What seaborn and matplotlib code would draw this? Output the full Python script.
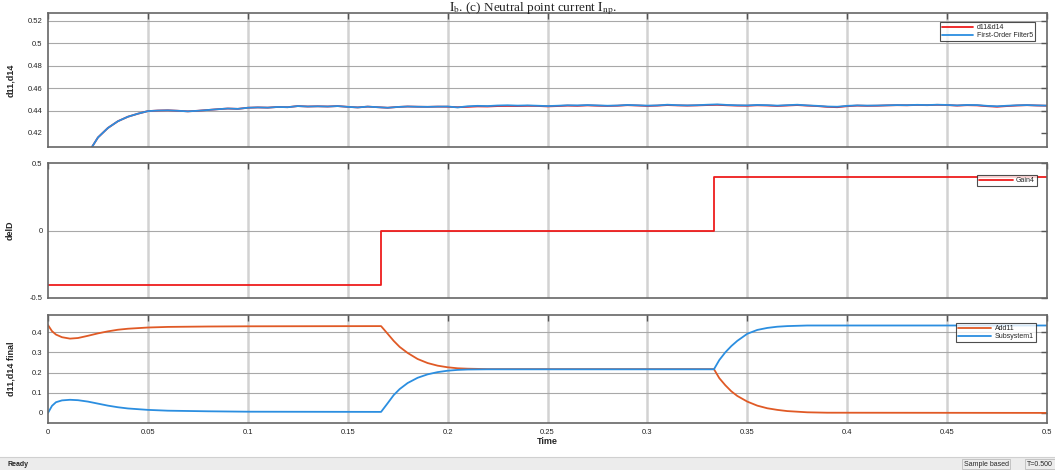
import numpy as np
import pandas as pd
import matplotlib
matplotlib.use("Agg")
import matplotlib.pyplot as plt
import seaborn as sns

# ---- data ----
# top panel: d11&d14 (red) and First-Order Filter5 (blue)
t_top = [0.022, 0.025, 0.03, 0.035, 0.04, 0.045,
         0.05, 0.055, 0.06, 0.065, 0.07, 0.075, 0.08, 0.085, 0.09, 0.095,
         0.10, 0.105, 0.11, 0.115, 0.12, 0.125, 0.13, 0.135, 0.14, 0.145,
         0.15, 0.155, 0.16, 0.165, 0.17, 0.175, 0.18, 0.185, 0.19, 0.195,
         0.20, 0.205, 0.21, 0.215, 0.22, 0.225, 0.23, 0.235, 0.24, 0.245,
         0.25, 0.255, 0.26, 0.265, 0.27, 0.275, 0.28, 0.285, 0.29, 0.295,
         0.30, 0.305, 0.31, 0.315, 0.32, 0.325, 0.33, 0.335, 0.34, 0.345,
         0.35, 0.355, 0.36, 0.365, 0.37, 0.375, 0.38, 0.385, 0.39, 0.395,
         0.40, 0.405, 0.41, 0.415, 0.42, 0.425, 0.43, 0.435, 0.44, 0.445,
         0.45, 0.455, 0.46, 0.465, 0.47, 0.475, 0.48, 0.485, 0.49, 0.495, 0.50]
filt5 = [0.4075, 0.416, 0.4245, 0.4305, 0.4345, 0.4372,
         0.4395, 0.4400, 0.4402, 0.4398, 0.4393, 0.4398, 0.4405, 0.4412, 0.4418, 0.4415,
         0.4425, 0.4428, 0.4426, 0.4432, 0.4430, 0.4440, 0.4436, 0.4438, 0.4436, 0.4440,
         0.4433, 0.4428, 0.4435, 0.4430, 0.4425, 0.4432, 0.4436, 0.4434, 0.4433, 0.4435,
         0.4436, 0.4428, 0.4438, 0.4442, 0.4440, 0.4445, 0.4447, 0.4444, 0.4446, 0.4443,
         0.4440, 0.4443, 0.4447, 0.4446, 0.4449, 0.4446, 0.4443, 0.4445, 0.4450, 0.4447,
         0.4444, 0.4446, 0.4452, 0.4448, 0.4446, 0.4448, 0.4452, 0.4455, 0.4450, 0.4447,
         0.4446, 0.4450, 0.4448, 0.4444, 0.4448, 0.4452, 0.4446, 0.4442, 0.4436, 0.4434,
         0.4442, 0.4446, 0.4444, 0.4445, 0.4447, 0.4449, 0.4448, 0.4451, 0.4449, 0.4452,
         0.4450, 0.4446, 0.4450, 0.4449, 0.4442, 0.4438, 0.4443, 0.4447, 0.4449, 0.4446, 0.4444]
d11_d14 = [0.4075, 0.416, 0.4245, 0.4305, 0.4345, 0.4372,
           0.4395, 0.4400, 0.4402, 0.4398, 0.4393, 0.4398, 0.4405, 0.4412, 0.4418, 0.4415,
           0.4425, 0.4428, 0.4426, 0.4432, 0.4430, 0.4440, 0.4436, 0.4438, 0.4436, 0.4440,
           0.4433, 0.4428, 0.4435, 0.4430, 0.4425, 0.4432, 0.4436, 0.4434, 0.4433, 0.4435,
           0.4434, 0.4430, 0.4433, 0.4437, 0.4436, 0.4440, 0.4441, 0.4440, 0.4442, 0.4441,
           0.4437, 0.4440, 0.4444, 0.4442, 0.4446, 0.4443, 0.4441, 0.4443, 0.4448, 0.4445,
           0.4441, 0.4444, 0.4449, 0.4446, 0.4444, 0.4446, 0.4449, 0.4451, 0.4447, 0.4444,
           0.4443, 0.4447, 0.4445, 0.4441, 0.4445, 0.4449, 0.4444, 0.4440, 0.4433, 0.4430,
           0.4439, 0.4444, 0.4442, 0.4443, 0.4446, 0.4448, 0.4447, 0.4450, 0.4448, 0.4451,
           0.4449, 0.4444, 0.4448, 0.4446, 0.4439, 0.4434, 0.4440, 0.4445, 0.4448, 0.4445, 0.4443]

# middle panel: Gain4 step signal
t_gain = [0.0, 0.1667, 0.3333, 0.5]
gain4 = [-0.4, 0.0, 0.4, 0.4]

# bottom panel: Add11 (orange) and Subsystem1 (blue)
t_bot = [0.0, 0.002, 0.004, 0.007, 0.011, 0.015, 0.02, 0.025, 0.03, 0.035, 0.04,
         0.05, 0.06, 0.08, 0.10, 0.1667,
         0.170, 0.173, 0.176, 0.180, 0.185, 0.190, 0.195, 0.200, 0.205, 0.210, 0.220,
         0.3333, 0.336, 0.339, 0.342, 0.345, 0.350, 0.355, 0.360, 0.365, 0.370, 0.380,
         0.390, 0.5]
add11 = [0.435, 0.405, 0.388, 0.375, 0.368, 0.371, 0.382, 0.394, 0.404, 0.412, 0.417,
         0.423, 0.426, 0.428, 0.429, 0.430,
         0.392, 0.357, 0.327, 0.297, 0.267, 0.247, 0.234, 0.226, 0.221, 0.219, 0.217,
         0.217, 0.172, 0.137, 0.107, 0.084, 0.056, 0.036, 0.023, 0.015, 0.009, 0.003,
         0.001, 0.0]
subsys1 = [0.0, 0.035, 0.053, 0.062, 0.065, 0.063, 0.056, 0.046, 0.036, 0.028, 0.022,
           0.015, 0.011, 0.008, 0.006, 0.005,
           0.048, 0.088, 0.118, 0.148, 0.174, 0.191, 0.202, 0.209, 0.213, 0.215, 0.216,
           0.216, 0.262, 0.300, 0.331, 0.357, 0.392, 0.411, 0.421, 0.427, 0.430, 0.433,
           0.433, 0.433]

x_ticks = [0, 0.05, 0.1, 0.15, 0.2, 0.25, 0.3, 0.35, 0.4, 0.45, 0.5]
x_labels = ["0", "0.05", "0.1", "0.15", "0.2", "0.25", "0.3", "0.35", "0.4", "0.45", "0.5"]

sns.set_style("white")
plt.rcParams["font.family"] = ["Liberation Sans", "DejaVu Sans"]
plt.rcParams["mathtext.fontset"] = "stix"

RED = "#ee1c1c"
BLUE = "#2b8ee0"
ORANGE = "#e05a26"

top_df = pd.DataFrame({"t": t_top, "d11&d14": d11_d14, "First-Order Filter5": filt5})
gain_df = pd.DataFrame({"t": t_gain, "Gain4": gain4})
bot_df = pd.DataFrame({"t": t_bot, "Add11": add11, "Subsystem1": subsys1})

fig = plt.figure(figsize=(10.55, 4.70), dpi=100)
W, H = 1055.0, 470.0


def px_axes(left, top, right, bottom):
    return fig.add_axes([left / W, 1 - bottom / H, (right - left) / W, (bottom - top) / H])


ax1 = px_axes(48, 13, 1047, 147)
ax2 = px_axes(48, 163, 1047, 298)
ax3 = px_axes(48, 315, 1047, 423)

sns.lineplot(data=top_df, x="t", y="d11&d14", ax=ax1, color=RED, lw=1.3, label="d11&d14")
sns.lineplot(data=top_df, x="t", y="First-Order Filter5", ax=ax1, color=BLUE, lw=1.3,
             label="First-Order Filter5")
sns.lineplot(data=gain_df, x="t", y="Gain4", ax=ax2, color=RED, lw=1.3,
             drawstyle="steps-post", label="Gain4")
sns.lineplot(data=bot_df, x="t", y="Add11", ax=ax3, color=ORANGE, lw=1.3, label="Add11")
sns.lineplot(data=bot_df, x="t", y="Subsystem1", ax=ax3, color=BLUE, lw=1.3, label="Subsystem1")

ax1.set_ylim(0.4075, 0.527)
ax1.set_yticks([0.42, 0.44, 0.46, 0.48, 0.5, 0.52])
ax1.set_yticklabels(["0.42", "0.44", "0.46", "0.48", "0.5", "0.52"])
ax1.set_ylabel("d11,d14")

ax2.set_ylim(-0.5, 0.5)
ax2.set_yticks([-0.5, 0, 0.5])
ax2.set_yticklabels(["-0.5", "0", "0.5"])
ax2.set_ylabel("delD")

ax3.set_ylim(-0.05, 0.485)
ax3.set_yticks([0, 0.1, 0.2, 0.3, 0.4])
ax3.set_yticklabels(["0", "0.1", "0.2", "0.3", "0.4"])
ax3.set_ylabel("d11,d14 final")
ax3.set_xlabel("Time", fontsize=6.5, fontweight="bold", labelpad=1)

legend_pos = {ax1: (1 - 12 / 999, 1 - 9 / 134, 4.5),
              ax2: (1 - 10 / 999, 1 - 12 / 135, 4.8),
              ax3: (1 - 11 / 999, 1 - 8 / 108, 4.8)}

for ax in (ax1, ax2, ax3):
    ax.set_xlim(0, 0.5)
    ax.set_xticks(x_ticks)
    if ax is ax3:
        ax.set_xticklabels(x_labels)
    else:
        ax.set_xticklabels([])
        ax.set_xlabel("")
    ax.grid(False)
    for xv in x_ticks[1:-1]:
        ax.axvline(xv, color="#d2d2d2", lw=1.8, zorder=0)
    for yv in ax.get_yticks()[1:]:
        if ax.get_ylim()[0] < yv < ax.get_ylim()[1]:
            ax.axhline(yv, color="#a8a8a8", lw=0.8, zorder=0)
    ax.tick_params(direction="in", length=4, width=1, colors="#555555",
                   labelcolor="#222222", labelsize=5.5, top=True, right=True, pad=4)
    for s in ax.spines.values():
        s.set_color("#666666")
        s.set_linewidth(1.2)
    ax.yaxis.label.set_fontsize(6.5)
    ax.yaxis.label.set_fontweight("bold")
    ax.yaxis.set_label_coords(-0.033, 0.5)
    bx, by, hl = legend_pos[ax]
    leg = ax.legend(loc="upper right", bbox_to_anchor=(bx, by), fontsize=5,
                    handlelength=hl, frameon=True, fancybox=False, borderpad=0.3,
                    labelspacing=0.15, handletextpad=0.5, borderaxespad=0)
    leg.get_frame().set_edgecolor("#222222")
    leg.get_frame().set_linewidth(0.8)

# caption fragment at the top of the screenshot
fig.text(533 / W, 1 - 0.5 / H, r"$\mathrm{I}_{\mathrm{b}}$. (c) Neutral point current $\mathrm{I}_{\mathrm{np}}$.",
         family="Liberation Serif", fontsize=9.5, ha="center", va="top")

# simulink status bar
sb = fig.add_axes([0, 0, 1, 13 / H])
sb.set_facecolor("#ececec")
sb.set_xticks([])
sb.set_yticks([])
for k, s in sb.spines.items():
    s.set_visible(k == "top")
sb.spines["top"].set_color("#d0d0d0")
sb.text(8 / W, 0.45, "Ready", fontsize=5, fontweight="bold", va="center", transform=sb.transAxes)
sb.text(986 / W, 0.45, "Sample based", fontsize=5, ha="center", va="center",
        transform=sb.transAxes,
        bbox=dict(boxstyle="square,pad=0.25", fc="#ececec", ec="#bdbdbd", lw=0.6))
sb.text(1040 / W, 0.45, "T=0.500", fontsize=5, ha="center", va="center",
        transform=sb.transAxes,
        bbox=dict(boxstyle="square,pad=0.25", fc="#ececec", ec="#bdbdbd", lw=0.6))

fig.savefig("out.png", dpi=100)
